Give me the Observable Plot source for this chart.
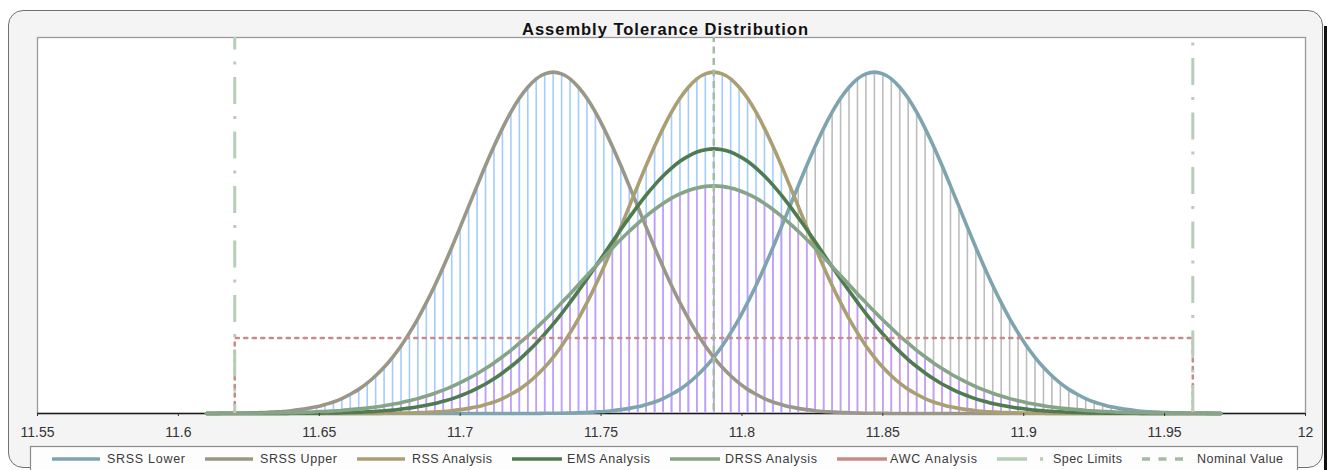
<!DOCTYPE html>
<html><head><meta charset="utf-8">
<script src="https://cdn.jsdelivr.net/npm/d3@7"></script>
<script src="https://cdn.jsdelivr.net/npm/@observablehq/plot@0.6"></script>
<style>
html,body{margin:0;padding:0;background:#fff;}
#wrap{position:relative;width:1327px;height:470px;overflow:hidden;font-family:'Liberation Sans',Arial,sans-serif;}
#frame{position:absolute;left:8px;top:10px;width:1313px;height:456px;border:1.5px solid #707070;border-radius:15px;background:#f4f4f4;}
#strip{position:absolute;left:1324px;top:26px;width:3px;height:444px;background:#111;}
#chart{position:absolute;left:0;top:0;}
#overlay{position:absolute;left:0;top:0;}
</style></head><body>
<div id="wrap"><div id="frame"></div><div id="strip"></div><div id="chart"></div><svg id="overlay" width="1327" height="470"></svg></div>
<script>
const chartTitle = "Assembly Tolerance Distribution";
const seriesNames = ["SRSS Lower","SRSS Upper","RSS Analysis","EMS Analysis","DRSS Analysis","AWC Analysis","Spec Limits","Nominal Value"];

const xs = [
 11.610,11.613,11.616,11.619,11.622,11.625,11.628,11.631,11.634,11.637,
 11.640,11.643,11.646,11.649,11.652,11.655,11.658,11.661,11.664,11.667,
 11.670,11.673,11.676,11.679,11.682,11.685,11.688,11.691,11.694,11.697,
 11.700,11.703,11.706,11.709,11.712,11.715,11.718,11.721,11.724,11.727,
 11.730,11.733,11.736,11.739,11.742,11.745,11.748,11.751,11.754,11.757,
 11.760,11.763,11.766,11.769,11.772,11.775,11.778,11.781,11.784,11.787,
 11.790,
 11.793,11.796,11.799,11.802,11.805,11.808,11.811,11.814,11.817,11.820,
 11.823,11.826,11.829,11.832,11.835,11.838,11.841,11.844,11.847,11.850,
 11.853,11.856,11.859,11.862,11.865,11.868,11.871,11.874,11.877,11.880,
 11.883,11.886,11.889,11.892,11.895,11.898,11.901,11.904,11.907,11.910,
 11.913,11.916,11.919,11.922,11.925,11.928,11.931,11.934,11.937,11.940,
 11.943,11.946,11.949,11.952,11.955,11.958,11.961,11.964,11.967,11.970
];

const srssLower = [
 0,0,0,0,0,0,0,0,0,0,
 0,0,0,0,0,0,0,0,0,0,
 0,0,0,0,0,0,0,0,0,0,
 0,0,0,0,0,0,0,0,0,0,
 0.01,0.01,0.01,0.02,0.03,0.04,0.06,0.08,0.11,0.15,
 0.20,0.26,0.35,0.45,0.58,0.75,0.94,1.18,1.47,1.80,
 2.19,
 2.63,3.14,3.70,4.32,4.99,5.71,6.47,7.26,8.07,8.87,
 9.66,10.41,11.11,11.74,12.28,12.71,13.04,13.23,13.30,13.23,
 13.04,12.71,12.28,11.74,11.11,10.41,9.66,8.87,8.07,7.26,
 6.47,5.71,4.99,4.32,3.70,3.14,2.63,2.19,1.80,1.47,
 1.18,0.94,0.75,0.58,0.45,0.35,0.26,0.20,0.15,0.11,
 0.08,0.06,0.04,0.03,0.02,0.01,0.01,0.01,0,0
];

const srssUpper = [
 0,0,0.01,0.01,0.01,0.02,0.03,0.04,0.06,0.08,
 0.11,0.15,0.20,0.26,0.35,0.45,0.58,0.75,0.94,1.18,
 1.47,1.80,2.19,2.63,3.14,3.70,4.32,4.99,5.71,6.47,
 7.26,8.07,8.87,9.66,10.41,11.11,11.74,12.28,12.71,13.04,
 13.23,13.30,13.23,13.04,12.71,12.28,11.74,11.11,10.41,9.66,
 8.87,8.07,7.26,6.47,5.71,4.99,4.32,3.70,3.14,2.63,
 2.19,
 1.80,1.47,1.18,0.94,0.75,0.58,0.45,0.35,0.26,0.20,
 0.15,0.11,0.08,0.06,0.04,0.03,0.02,0.01,0.01,0.01,
 0,0,0,0,0,0,0,0,0,0,
 0,0,0,0,0,0,0,0,0,0,
 0,0,0,0,0,0,0,0,0,0,
 0,0,0,0,0,0,0,0,0,0
];

const rssAnalysis = [
 0,0,0,0,0,0,0,0,0,0,
 0,0,0,0,0,0,0,0,0,0,
 0,0.01,0.01,0.01,0.02,0.03,0.04,0.06,0.08,0.11,
 0.15,0.20,0.26,0.35,0.45,0.58,0.75,0.94,1.18,1.47,
 1.80,2.19,2.63,3.14,3.70,4.32,4.99,5.71,6.47,7.26,
 8.07,8.87,9.66,10.41,11.11,11.74,12.28,12.71,13.04,13.23,
 13.30,
 13.23,13.04,12.71,12.28,11.74,11.11,10.41,9.66,8.87,8.07,
 7.26,6.47,5.71,4.99,4.32,3.70,3.14,2.63,2.19,1.80,
 1.47,1.18,0.94,0.75,0.58,0.45,0.35,0.26,0.20,0.15,
 0.11,0.08,0.06,0.04,0.03,0.02,0.01,0.01,0.01,0,
 0,0,0,0,0,0,0,0,0,0,
 0,0,0,0,0,0,0,0,0,0
];

const emsAnalysis = [
 0,0,0,0,0,0,0,0,0,0,
 0.01,0.01,0.01,0.01,0.02,0.02,0.03,0.04,0.05,0.07,
 0.08,0.11,0.13,0.17,0.21,0.26,0.32,0.39,0.48,0.57,
 0.69,0.82,0.98,1.15,1.35,1.58,1.83,2.10,2.41,2.74,
 3.10,3.48,3.89,4.33,4.78,5.24,5.72,6.20,6.69,7.17,
 7.63,8.08,8.51,8.90,9.25,9.56,9.83,10.03,10.19,10.28,
 10.31,
 10.28,10.19,10.03,9.83,9.56,9.25,8.90,8.51,8.08,7.63,
 7.17,6.69,6.20,5.72,5.24,4.78,4.33,3.89,3.48,3.10,
 2.74,2.41,2.10,1.83,1.58,1.35,1.15,0.98,0.82,0.69,
 0.57,0.48,0.39,0.32,0.26,0.21,0.17,0.13,0.11,0.08,
 0.07,0.05,0.04,0.03,0.02,0.02,0.01,0.01,0.01,0.01,
 0,0,0,0,0,0,0,0,0,0
];

const drssAnalysis = [
 0,0,0.01,0.01,0.01,0.01,0.01,0.02,0.02,0.03,
 0.03,0.04,0.05,0.07,0.08,0.10,0.12,0.15,0.18,0.21,
 0.25,0.30,0.36,0.42,0.50,0.58,0.68,0.79,0.91,1.05,
 1.20,1.37,1.55,1.75,1.97,2.21,2.46,2.74,3.02,3.33,
 3.64,3.97,4.32,4.66,5.02,5.38,5.73,6.09,6.44,6.78,
 7.10,7.40,7.69,7.95,8.18,8.39,8.56,8.69,8.79,8.85,
 8.87,
 8.85,8.79,8.69,8.56,8.39,8.18,7.95,7.69,7.40,7.10,
 6.78,6.44,6.09,5.73,5.38,5.02,4.66,4.32,3.97,3.64,
 3.33,3.02,2.74,2.46,2.21,1.97,1.75,1.55,1.37,1.20,
 1.05,0.91,0.79,0.68,0.58,0.50,0.42,0.36,0.30,0.25,
 0.21,0.18,0.15,0.12,0.10,0.08,0.07,0.05,0.04,0.03,
 0.03,0.02,0.02,0.01,0.01,0.01,0.01,0.01,0,0
];

const awcX = [11.62, 11.62, 11.96, 11.96];
const awcY = [0, 2.94, 2.94, 0];
const specLimits = [11.62, 11.96];
const nominalValue = 11.79;
const xTicks = [11.55, 11.6, 11.65, 11.7, 11.75, 11.8, 11.85, 11.9, 11.95, 12];
const xTickLabels = ["11.55","11.6","11.65","11.7","11.75","11.8","11.85","11.9","11.95","12"];

[srssLower,srssUpper,rssAnalysis,emsAnalysis,drssAnalysis].forEach((a,i)=>{
  if (a.length !== xs.length) throw new Error("length mismatch in series " + i + ": " + a.length);
});

const C = {
  lower:"#7ea4b0", upper:"#9a9788", rss:"#aa9f73", ems:"#4e7c4e", drss:"#86a486",
  awc:"#c68c8c", spec:"#b8cdb8", nominal:"#a3bba3",
  barGray:"#bdbdbd", barBlue:"#a3cdff", barPurple:"#c89aff"
};

const rows = xs.map((x,i)=>({x, lower:srssLower[i], upper:srssUpper[i], rss:rssAnalysis[i], ems:emsAnalysis[i], drss:drssAnalysis[i]}));
const awcRows = awcX.map((x,i)=>({x, y:awcY[i]}));
const blueCut = 11.8185;
const barW = 1.6;
const lw = 3.6;

const plot = Plot.plot({
  width: 1327, height: 470,
  marginLeft: 37, marginRight: 22, marginTop: 37, marginBottom: 57,
  x: {domain: [11.55, 12]},
  y: {domain: [0, 14.65], axis: null},
  style: {background: "transparent", fontFamily: "'Liberation Sans', Arial, sans-serif", color: "#333", overflow: "visible"},
  marks: [
    Plot.frame({fill: "#fff", stroke: "#9a9a9a", strokeWidth: 1.3}),
    Plot.ruleY([0], {stroke: "#1a1a1a", strokeWidth: 1.6}),
    Plot.ruleX(rows.filter(d => d.lower > 0), {x: "x", y1: 0, y2: "lower", stroke: C.barGray, strokeWidth: barW}),
    Plot.ruleX(rows.filter(d => d.x < blueCut && Math.max(d.upper, d.rss) > 0), {x: "x", y1: 0, y2: d => Math.max(d.upper, d.rss), stroke: C.barBlue, strokeWidth: barW}),
    Plot.ruleX(rows.filter(d => d.drss > 0), {x: "x", y1: 0, y2: "drss", stroke: C.barPurple, strokeWidth: barW}),
    Plot.line(rows, {x: "x", y: "lower", stroke: C.lower, strokeWidth: lw, curve: "monotone-x"}),
    Plot.line(rows, {x: "x", y: "upper", stroke: C.upper, strokeWidth: lw, curve: "monotone-x"}),
    Plot.line(rows, {x: "x", y: "rss", stroke: C.rss, strokeWidth: lw, curve: "monotone-x"}),
    Plot.line(rows, {x: "x", y: "ems", stroke: C.ems, strokeWidth: lw, curve: "monotone-x"}),
    Plot.line(rows, {x: "x", y: "drss", stroke: C.drss, strokeWidth: lw, curve: "monotone-x"}),
    Plot.line(awcRows, {x: "x", y: "y", stroke: C.awc, strokeWidth: 2.6, strokeDasharray: "3,5.5"}),
    Plot.ruleX([specLimits[0]], {stroke: C.spec, strokeWidth: 3, strokeDasharray: "27,12,3,12.5", strokeDashoffset: 14.5}),
    Plot.ruleX([specLimits[1]], {stroke: C.spec, strokeWidth: 3, strokeDasharray: "27,12,3,12.5", strokeDashoffset: 33.5}),
    Plot.ruleX([nominalValue], {stroke: C.nominal, strokeWidth: 2.5, strokeDasharray: "7,4.5", strokeDashoffset: 2}),
    Plot.axisX({ticks: xTicks, tickFormat: d => xTickLabels[xTicks.indexOf(d)], tickSize: 3, tickPadding: 11, fontSize: 14, label: null})
  ]
});
document.getElementById("chart").appendChild(plot);

// overlay: title and legend
const ov = d3.select("#overlay");
ov.append("text").attr("x", 665).attr("y", 35).attr("text-anchor", "middle")
  .attr("font-family", "'Liberation Sans', Arial, sans-serif")
  .attr("font-size", 16.5).attr("font-weight", "bold").attr("fill", "#111")
  .attr("textLength", 286).attr("lengthAdjust", "spacing").text(chartTitle);

ov.append("rect").attr("x", 30.5).attr("y", 446.5).attr("width", 1267).attr("height", 40)
  .attr("fill", "#fdfdfd").attr("stroke", "#8a8a8a").attr("stroke-width", 1.2);

const legendItems = [
  {x0: 52, x1: 100, tx: 107, tw: 78, stroke: C.lower},
  {x0: 205, x1: 253, tx: 260, tw: 77, stroke: C.upper},
  {x0: 357, x1: 405, tx: 412, tw: 80, stroke: C.rss},
  {x0: 512, x1: 562, tx: 567, tw: 83, stroke: C.ems},
  {x0: 670, x1: 720, tx: 725, tw: 92, stroke: C.drss},
  {x0: 837, x1: 887, tx: 890, tw: 87, stroke: C.awc},
  {x0: 997, x1: 1044, tx: 1053, tw: 69, stroke: C.spec, dash: "30,13,3,50"},
  {x0: 1142, x1: 1184, tx: 1197, tw: 86, stroke: C.nominal, dash: "8,8.5"}
];
legendItems.forEach((it, i) => {
  const ln = ov.append("line").attr("x1", it.x0).attr("x2", it.x1).attr("y1", 459).attr("y2", 459)
    .attr("stroke", it.stroke).attr("stroke-width", 3.5);
  if (it.dash) ln.attr("stroke-dasharray", it.dash);
  ov.append("text").attr("x", it.tx).attr("y", 463)
    .attr("font-family", "'Liberation Sans', Arial, sans-serif")
    .attr("font-size", 12.5).attr("fill", "#3a3a3a")
    .attr("textLength", it.tw).attr("lengthAdjust", "spacing").text(seriesNames[i]);
});
</script></body></html>
